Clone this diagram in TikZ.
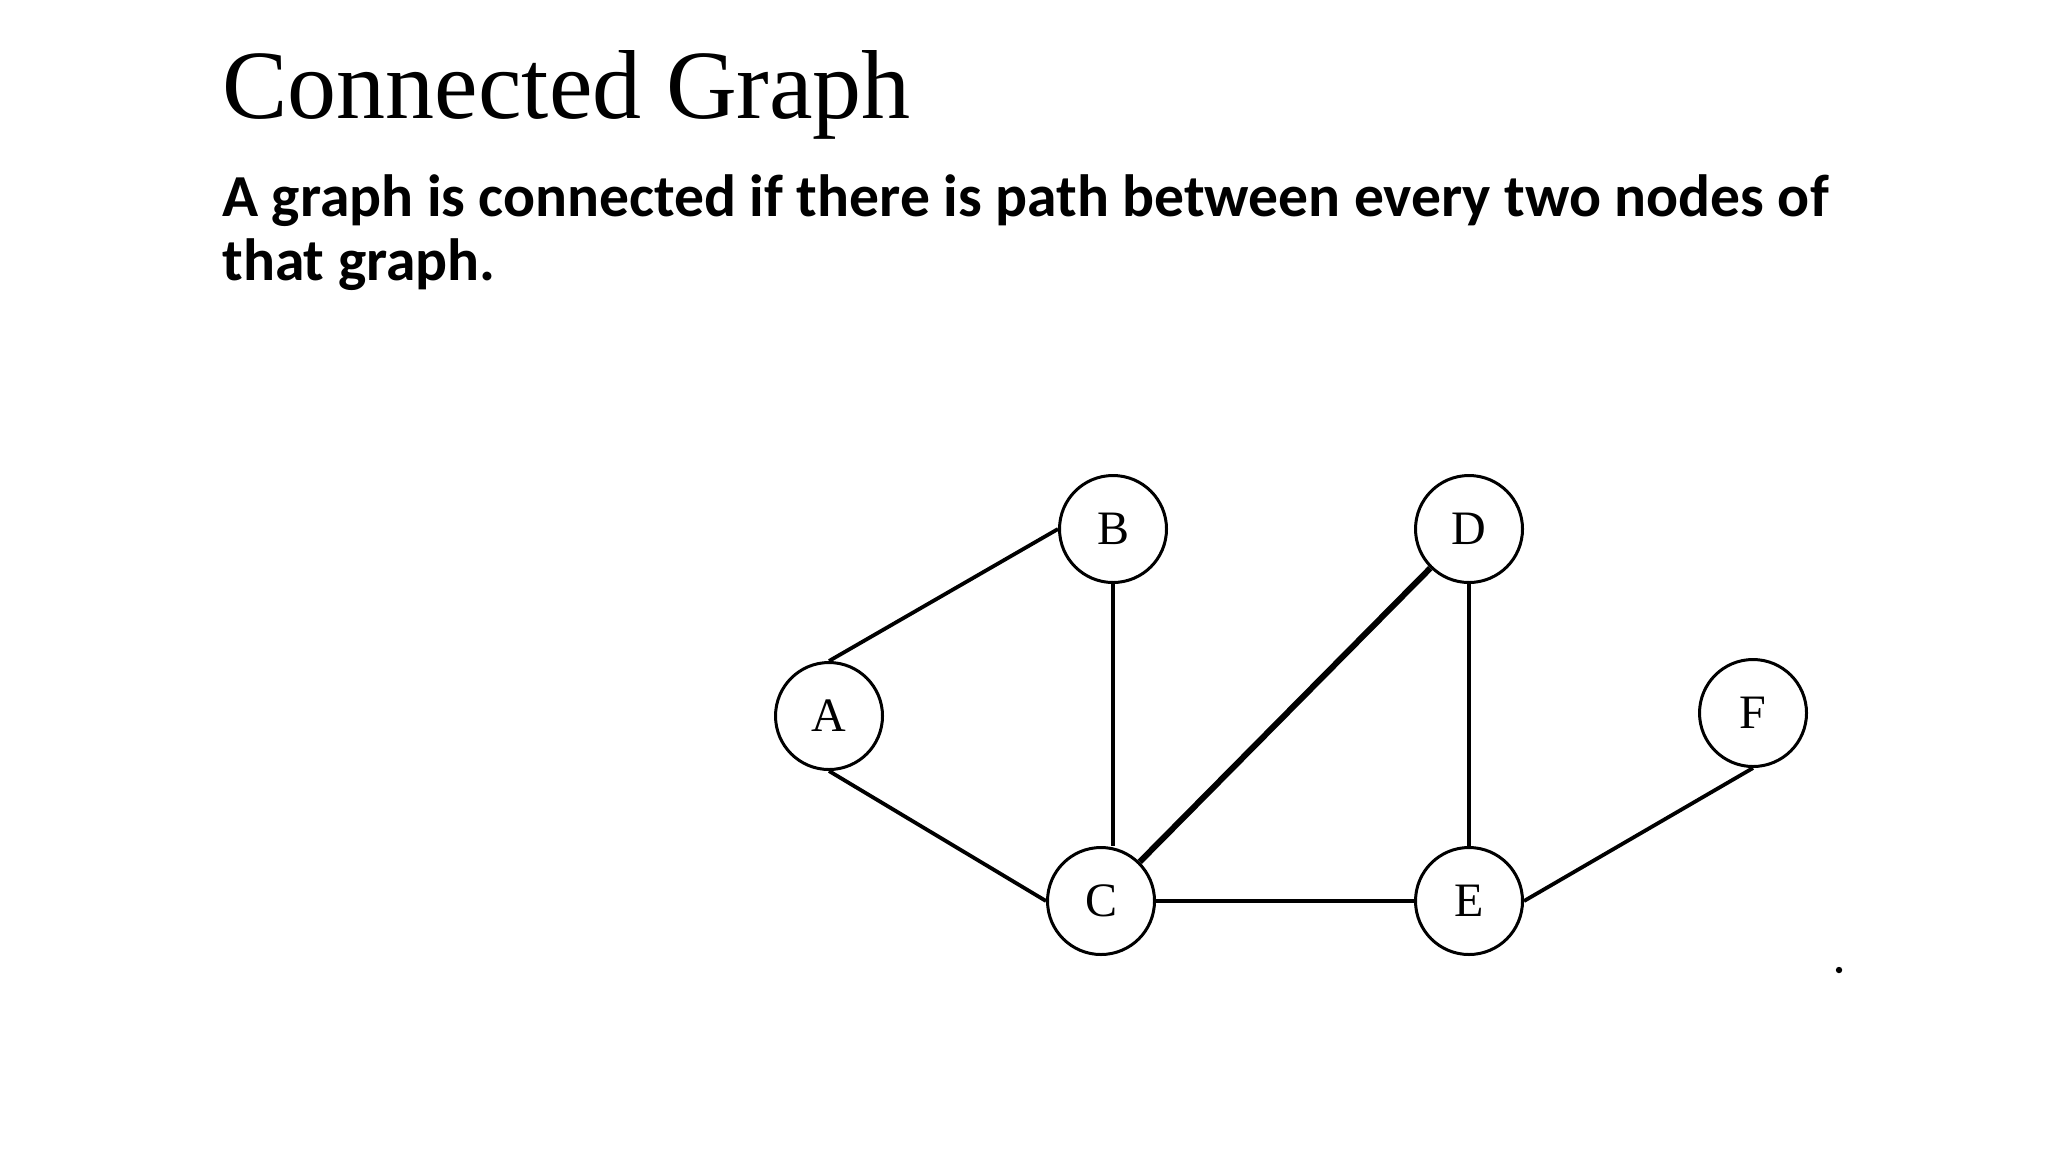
\documentclass[tikz,border=0pt]{standalone}
\usepackage{fontspec}
\setmainfont{Liberation Serif}
\newfontfamily\bodyfont{Carlito}
\newfontfamily\titlefont{Liberation Serif}
\begin{document}
\begin{tikzpicture}[x={(0.5pt,0)},y={(0,-0.5pt)},
  vertex/.style={circle,draw=black,line width=1.5pt,minimum size=53.5pt,inner sep=0pt,
    font=\fontsize{24}{28}\selectfont},
  edge/.style={line width=1.9pt,black},
  thickedge/.style={line width=3pt,black},
  titletext/.style={anchor=base west,inner sep=0pt,font=\titlefont\fontsize{49}{58}\selectfont},
  bodytext/.style={anchor=base west,inner sep=0pt,font=\bodyfont\bfseries\fontsize{29.8}{34}\selectfont}]
\useasboundingbox[fill=white] (0,0) rectangle (2048,1152);
\node[titletext] (title) at (222,118) {Connected Graph};
\node[bodytext] (line1) at (222,216) {A graph is connected if there is path between every two nodes of};
\node[bodytext] (line2) at (222,280) {that graph.};
\node[vertex] (A) at (829,716) {A};
\node[vertex] (B) at (1113,529) {B};
\node[vertex] (C) at (1101,901) {C};
\node[vertex] (D) at (1469,529) {D};
\node[vertex] (E) at (1469,901) {E};
\node[vertex] (F) at (1753,713) {F};
\draw[edge] (A.north) -- (B.west);
\draw[edge] (A.south) -- (C.west);
\draw[edge] (B.south) -- (B.south |- C.north);
\draw[thickedge] (C) -- (D);
\draw[edge] (D) -- (E);
\draw[edge] (C) -- (E);
\draw[edge] (E.east) -- (F.south);
\fill[black] (1839,970) circle (1.6pt);
\end{tikzpicture}
\end{document}
